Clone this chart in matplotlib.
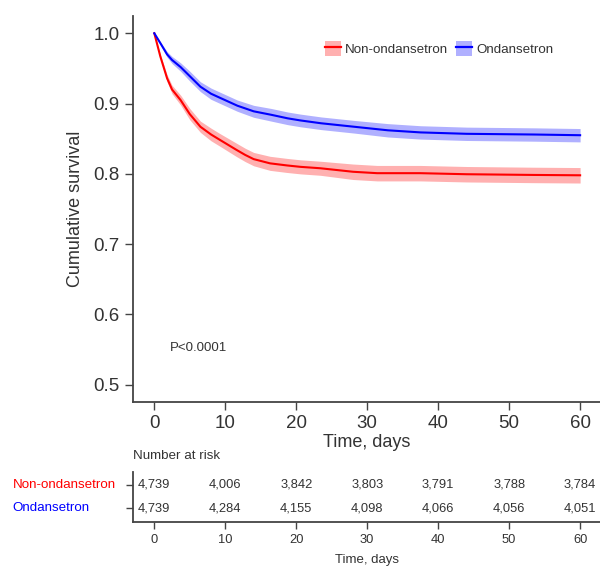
import matplotlib
matplotlib.use("Agg")
import matplotlib.pyplot as plt
import matplotlib.transforms as mtransforms
from matplotlib.lines import Line2D
from matplotlib.patches import Patch

plt.rcParams["font.family"] = ["Liberation Sans", "DejaVu Sans"]

# curvas de Kaplan-Meier
t_non = [0, 0.85, 1.8, 2.5, 3.7, 5, 6.5, 8, 9.3, 11.6, 12.8, 14, 16.3, 18.7,
         20.6, 23.4, 28, 31.4, 37.5, 44, 53.4, 60]
s_non = [1.0, 0.967, 0.936, 0.92, 0.905, 0.885, 0.867, 0.856, 0.848, 0.834,
         0.827, 0.821, 0.815, 0.812, 0.810, 0.808, 0.803, 0.801, 0.801, 0.7995,
         0.7985, 0.798]
ic_non = [0, 0.003, 0.005, 0.006, 0.007, 0.008, 0.008, 0.009, 0.009, 0.0095,
          0.0095, 0.0095, 0.010, 0.010, 0.010, 0.010, 0.011, 0.011, 0.011,
          0.011, 0.011, 0.011]

t_ond = [0, 0.85, 1.8, 2.5, 3.7, 5, 6.5, 8, 9.3, 11.7, 14, 16.5, 18.8, 20.6,
         23.5, 28.2, 32.9, 37.5, 44, 53.5, 60]
s_ond = [1.0, 0.986, 0.970, 0.962, 0.952, 0.939, 0.924, 0.914, 0.908, 0.897,
         0.889, 0.884, 0.879, 0.876, 0.872, 0.867, 0.862, 0.859, 0.857, 0.856,
         0.855]
ic_ond = [0, 0.002, 0.004, 0.005, 0.006, 0.007, 0.007, 0.008, 0.008, 0.008,
          0.0085, 0.009, 0.009, 0.009, 0.009, 0.009, 0.0095, 0.0095, 0.0095,
          0.0095, 0.0095]

tempos = [0, 10, 20, 30, 40, 50, 60]
risco_non = ["4,739", "4,006", "3,842", "3,803", "3,791", "3,788", "3,784"]
risco_ond = ["4,739", "4,284", "4,155", "4,098", "4,066", "4,056", "4,051"]

grupos = ["Non-ondansetron", "Ondansetron"]
VERMELHO = "#ff0000"
AZUL = "#0000ff"
FAIXA_V = "#ffb0b0"
FAIXA_A = "#b0b0ff"
CINZA = "#444444"
TEXTO = "#333333"

fig = plt.figure(figsize=(6.0, 5.67), dpi=100)
ax = fig.add_axes([0.2217, 0.2905, 0.7783, 0.6818])
tab = fig.add_axes([0.2217, 0.0799, 0.7783, 0.0882])

for t, s, ic, cor, faixa in [(t_non, s_non, ic_non, VERMELHO, FAIXA_V),
                             (t_ond, s_ond, ic_ond, AZUL, FAIXA_A)]:
    lo = [a - b for a, b in zip(s, ic)]
    hi = [a + b for a, b in zip(s, ic)]
    ax.fill_between(t, lo, hi, color=faixa, lw=0)
    ax.plot(t, s, color=cor, lw=1.5)

ax.set_xlim(-3, 62.8)
ax.set_ylim(0.4751, 1.025)
ax.set_xticks(tempos)
ax.set_yticks([0.5, 0.6, 0.7, 0.8, 0.9, 1.0])
ax.set_yticklabels(["0.5", "0.6", "0.7", "0.8", "0.9", "1.0"])
ax.set_xlabel("Time, days", fontsize=13, color=TEXTO, labelpad=1)
ax.set_ylabel("Cumulative survival", fontsize=13, color=TEXTO, labelpad=7)
ax.tick_params(labelsize=13.5, colors=TEXTO, length=6, width=1, color=CINZA)
for lado in ["top", "right"]:
    ax.spines[lado].set_visible(False)
for lado in ["left", "bottom"]:
    ax.spines[lado].set_color(CINZA)
    ax.spines[lado].set_linewidth(1.3)

ax.text(2.2, 0.552, "P<0.0001", fontsize=9.5, color=TEXTO, va="center")

handles = [(Patch(facecolor=FAIXA_V, edgecolor="none"), Line2D([], [], color=VERMELHO, lw=1.6)),
           (Patch(facecolor=FAIXA_A, edgecolor="none"), Line2D([], [], color=AZUL, lw=1.6))]
ax.legend(handles, grupos, loc="center", bbox_to_anchor=(0.656, 0.9156), ncol=2,
          frameon=False, fontsize=9.6, handlelength=1.2, handleheight=1.4,
          handletextpad=0.3, columnspacing=0.6, labelcolor=TEXTO)

# tabela de número em risco
tab.set_xlim(-3, 62.8)
tab.set_ylim(-0.575, 1.57)
for x, a, b in zip(tempos, risco_non, risco_ond):
    tab.text(x, 1, a, ha="center", va="center", fontsize=9.3, color=TEXTO)
    tab.text(x, 0, b, ha="center", va="center", fontsize=9.3, color=TEXTO)
tab.set_xticks(tempos)
tab.set_yticks([1, 0])
tab.set_yticklabels([])
tab.set_xlabel("Time, days", fontsize=9.5, color=TEXTO, labelpad=6)
tab.tick_params(labelsize=9.3, colors=TEXTO, length=5, width=1, color=CINZA)
for lado in ["top", "right"]:
    tab.spines[lado].set_visible(False)
for lado in ["left", "bottom"]:
    tab.spines[lado].set_color(CINZA)
    tab.spines[lado].set_linewidth(1.3)

trans = mtransforms.blended_transform_factory(fig.transFigure, tab.transData)
tab.text(12.7 / 600, 1, grupos[0], transform=trans, ha="left", va="center",
         fontsize=9.6, color=VERMELHO)
tab.text(12.7 / 600, 0, grupos[1], transform=trans, ha="left", va="center",
         fontsize=9.6, color=AZUL)
tab.text(0.0, 1.0 + 16 / 567 / 0.0882, "Number at risk", transform=tab.transAxes,
         ha="left", va="center", fontsize=9.6, color=TEXTO)

fig.savefig("out.png", dpi=100)
